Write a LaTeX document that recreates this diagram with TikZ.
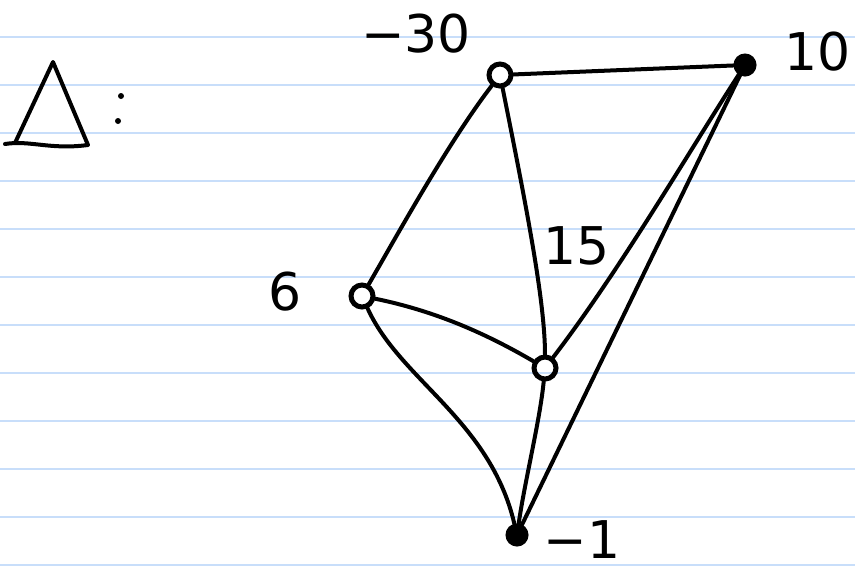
\documentclass[tikz,border=0pt]{standalone}
\usepackage{fontspec}
\setmainfont{DejaVu Sans}
\definecolor{rule}{RGB}{200,222,250}
\tikzset{
  pen/.style={line width=4pt, line cap=round, line join=round},
  vtx/.style={circle, draw, line width=5pt, minimum size=22pt, inner sep=0pt},
  vtxfill/.style={vtx, fill=black},
  lbl/.style={font=\fontsize{52}{56}\selectfont, inner sep=0pt}
}
\begin{document}
\begin{tikzpicture}[x=1pt,y=-1pt]
\useasboundingbox (0,0) rectangle (855,571);
\fill[white] (0,0) rectangle (855,571);
\foreach \yy in {37,85,...,565} \draw[rule, line width=2pt] (0,\yy) -- (855,\yy);
% triangle symbol
\draw[pen] (5,144) .. controls (30,140) and (50,150) .. (88,145) -- (53,62) -- (15,143);
\fill (121,96) circle (3pt);
\fill (118,121) circle (3pt);
% vertices
\node[vtx] (A) at (500,75) {};
\node[vtxfill, minimum size=18pt] (B) at (745,65) {};
\node[vtx] (C) at (362,296) {};
\node[vtx] (D) at (545,368) {};
\node[vtxfill, minimum size=18pt] (E) at (517,535) {};
% edges
\draw[pen] (A) -- (B);
\draw[pen] (A) .. controls (450,140) and (400,230) .. (C);
\draw[pen] (A) .. controls (525,200) and (545,300) .. (D);
\draw[pen] (B) .. controls (690,150) and (620,270) .. (D);
\draw[pen] (B) -- (E);
\draw[pen] (C) .. controls (430,310) and (480,330) .. (D);
\draw[pen] (C) .. controls (400,380) and (490,420) .. (E);
\draw[pen] (D) .. controls (540,420) and (525,480) .. (E);
% labels
\node[lbl] (lA) at (416,34) {−30};
\node[lbl] (lB) at (818,52) {10};
\node[lbl] (lC) at (285,292) {6};
\node[lbl] (lD) at (577,246) {15};
\node[lbl] (lE) at (582,540) {−1};
\end{tikzpicture}
\end{document}
